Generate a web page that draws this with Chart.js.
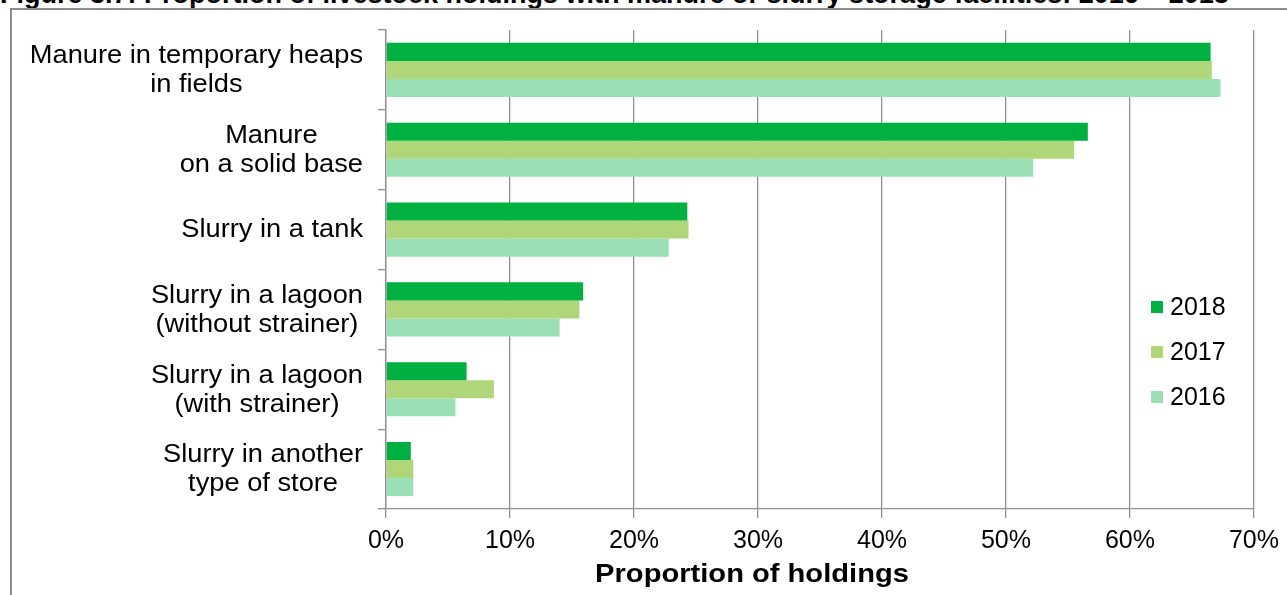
<!DOCTYPE html>
<html>
<head>
<meta charset="utf-8">
<script src="https://cdn.jsdelivr.net/npm/chart.js@4.4.0/dist/chart.umd.min.js"></script>
<style>
    html, body { margin: 0; padding: 0; background: #fff; overflow: hidden; }
    #wrap { position: relative; width: 1287px; height: 595px; overflow: hidden; }
    #title { position: absolute; left: 0; top: -19px; font: bold 27px "Liberation Sans", Arial, sans-serif; line-height: 27px; white-space: nowrap; color: #000; }
    #frame { position: absolute; left: 10px; top: 8px; width: 1400px; height: 700px; border-left: 2px solid #8c8c8c; border-top: 2px solid #8c8c8c; }
    #chart { position: absolute; left: 0; top: 0; }
</style>
</head>
<body>
<div id="wrap">
    <div id="title">Figure 3.7: Proportion of livestock holdings with manure or slurry storage facilities: 2016 – 2018</div>
    <div id="frame"></div>
    <canvas id="chart" width="1287" height="595"></canvas>
</div>
<script>
// storage types, one row per category (multi-line labels)
const categories = [
    ['Manure in temporary heaps', 'in fields'],
    ['Manure', 'on a solid base'],
    ['Slurry in a tank'],
    ['Slurry in a lagoon', '(without strainer)'],
    ['Slurry in a lagoon', '(with strainer)'],
    ['Slurry in another', 'type of store']
];
const years = ['2018', '2017', '2016'];
const yearColours = ['#00b041', '#afd77a', '#9be0b5'];

// % of holdings
const share2018 = [66.5, 56.6, 24.3, 15.9, 6.5, 2.0];
const share2017 = [66.6, 55.5, 24.4, 15.6, 8.7, 2.2];
const share2016 = [67.3, 52.2, 22.8, 14.0, 5.6, 2.2];

const xMin = 0;
const xMax = 70;
const xStep = 10;
const xTitle = 'Proportion of holdings';

const FONT = '"Liberation Sans", Arial, sans-serif';
const STRETCH = 1.09;   // text in the export is a little wide

// category labels: block right aligned to the axis, lines centred within the block
const categoryLabels = {
    id: 'categoryLabels',
    afterDraw(chart) {
        const ctx = chart.ctx;
        const yScale = chart.scales.y;
        const lineH = 29;
        const rightEdge = yScale.right - 23;
        ctx.save();
        ctx.font = '25px ' + FONT;
        ctx.fillStyle = '#000';
        ctx.textAlign = 'center';
        ctx.textBaseline = 'middle';
        chart.data.labels.forEach((lines, i) => {
            const yc = yScale.getPixelForTick(i);
            const w = Math.max(...lines.map(l => ctx.measureText(l).width)) * STRETCH;
            const xc = rightEdge - w / 2;
            lines.forEach((line, j) => {
                ctx.save();
                ctx.translate(xc, yc + (j - (lines.length - 1) / 2) * lineH + 1);
                ctx.scale(STRETCH, 1);
                ctx.fillText(line, 0, 0);
                ctx.restore();
            });
        });
        ctx.restore();
    }
};

// bold axis title under the tick labels
const axisTitle = {
    id: 'axisTitle',
    afterDraw(chart) {
        const ctx = chart.ctx;
        ctx.save();
        ctx.font = 'bold 26px ' + FONT;
        ctx.fillStyle = '#000';
        ctx.textAlign = 'center';
        ctx.textBaseline = 'alphabetic';
        ctx.translate(752, 582);
        ctx.scale(1.12, 1);
        ctx.fillText(xTitle, 0, 0);
        ctx.restore();
    }
};

// legend drawn inside the plot, right hand side
const sideLegend = {
    id: 'sideLegend',
    afterDraw(chart) {
        const ctx = chart.ctx;
        const x = 1151;
        const y0 = 307;
        const gap = 45;
        ctx.save();
        ctx.font = '25px ' + FONT;
        ctx.textBaseline = 'middle';
        ctx.textAlign = 'left';
        chart.data.datasets.forEach((ds, i) => {
            const y = y0 + i * gap;
            ctx.fillStyle = ds.backgroundColor;
            ctx.fillRect(x, y - 6, 12, 12);
            ctx.fillStyle = '#000';
            ctx.fillText(ds.label, x + 19, y + 1);
        });
        ctx.restore();
    }
};

const seriesData = [share2018, share2017, share2016];

new Chart(document.getElementById('chart').getContext('2d'), {
    type: 'bar',
    data: {
        labels: categories,
        datasets: years.map((yr, i) => ({
            label: yr,
            data: seriesData[i],
            backgroundColor: yearColours[i],
            borderWidth: 0,
            categoryPercentage: 0.678,
            barPercentage: 1.0
        }))
    },
    options: {
        indexAxis: 'y',
        responsive: false,
        animation: false,
        layout: {padding: {left: 0, right: 31, top: 30, bottom: 0}},
        plugins: {
            legend: {display: false},
            tooltip: {enabled: false}
        },
        scales: {
            x: {
                min: xMin,
                max: xMax,
                ticks: {
                    stepSize: xStep,
                    color: '#000',
                    padding: 8,
                    font: {family: FONT, size: 25},
                    callback: (v) => v + '%'
                },
                grid: {
                    color: '#8f8f8f',
                    lineWidth: 1.3,
                    tickLength: 9
                },
                border: {color: '#8f8f8f', width: 1.3},
                afterFit: (scale) => { scale.height = 86; }
            },
            y: {
                offset: true,
                ticks: {display: false},
                grid: {
                    offset: true,
                    drawOnChartArea: false,
                    color: '#8f8f8f',
                    lineWidth: 1.3,
                    tickLength: 8
                },
                border: {color: '#8f8f8f', width: 1.3},
                afterFit: (scale) => { scale.width = 386; }
            }
        }
    },
    plugins: [categoryLabels, axisTitle, sideLegend]
});
</script>
</body>
</html>
